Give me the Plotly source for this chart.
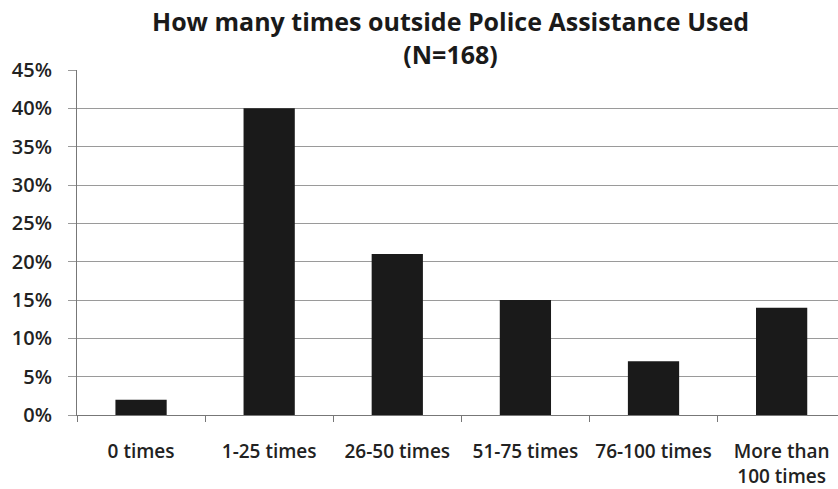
import plotly.graph_objects as go

categories = ["0 times", "1-25 times", "26-50 times", "51-75 times", "76-100 times", "More than<br>100 times"]
values = [2, 40, 21, 15, 7, 14]
y_ticks = [0, 5, 10, 15, 20, 25, 30, 35, 40, 45]
y_labels = [f"{v}%" for v in y_ticks]
title_text = "How many times outside Police Assistance Used<br>(N=168)"

fig = go.Figure(go.Bar(x=categories, y=values, marker=dict(color="#1a1a1a", line=dict(width=0)), width=0.4))

fig.update_layout(
    width=838, height=489,
    margin=dict(l=77, r=0, t=70, b=72),
    paper_bgcolor="white", plot_bgcolor="white",
    font=dict(family="Open Sans", color="#222222", size=16),
    showlegend=False,
    bargap=0.6,
)
fig.add_annotation(text=title_text, xref="paper", yref="paper", x=(450 - 77) / (838 - 77),
                   y=1 + (70 - 37) / (489 - 70 - 72), xanchor="center", yanchor="middle",
                   showarrow=False, font=dict(family="Open Sans", size=25, color="#1a1a1a", weight=700))

fig.update_xaxes(
    range=[-0.5, 5.44], showgrid=False, showline=True, linecolor="#777777", linewidth=1,
    ticks="outside", tickson="boundaries", ticklen=6, tickcolor="#777777",
    ticklabelstandoff=19, tickfont=dict(size=19, color="#222222", weight=600), fixedrange=True,
)
fig.update_yaxes(
    range=[0, 45], tickvals=y_ticks, ticktext=y_labels, showgrid=True, gridcolor="#9a9a9a", gridwidth=1,
    showline=True, linecolor="#777777", linewidth=1, ticks="outside", ticklen=8, tickcolor="#9a9a9a",
    tickfont=dict(size=20, color="#222222", weight=600), zeroline=False, ticklabelstandoff=12,
)

fig.write_html("out.html")
